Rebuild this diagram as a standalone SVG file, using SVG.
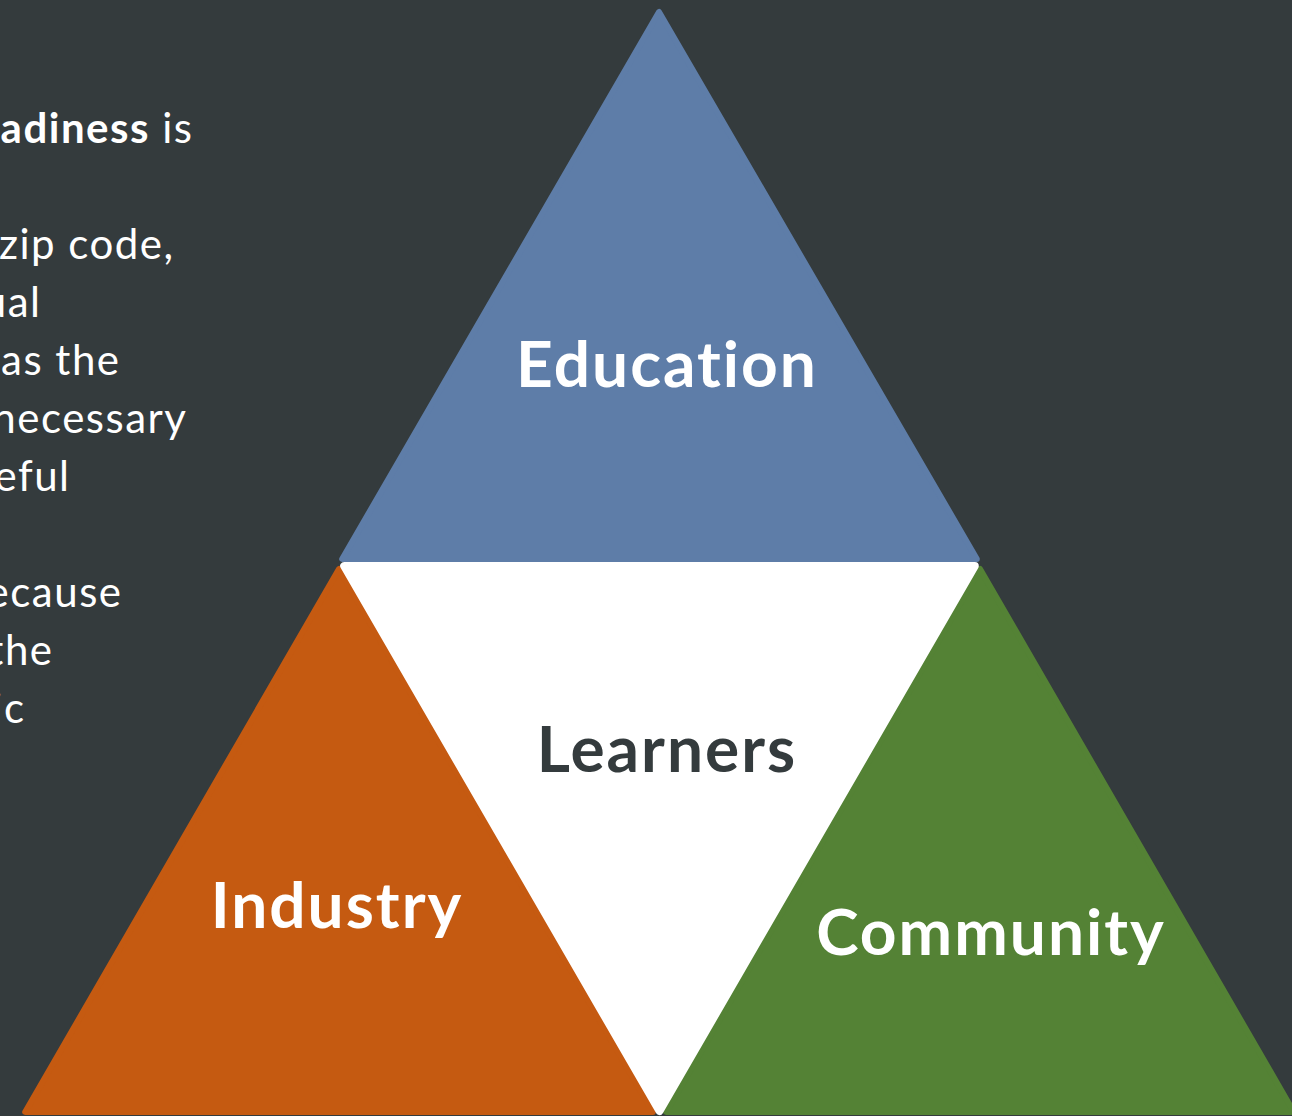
<svg xmlns="http://www.w3.org/2000/svg" width="1292" height="1116" viewBox="0 0 1292 1116">
<style>
.tri{stroke-width:6;stroke-linejoin:round}
.lbl{font-family:Lato,"Noto Sans",sans-serif;font-weight:bold;font-size:64px;text-anchor:middle;letter-spacing:2px;font-variant-ligatures:none}
.body{font-family:Lato,"Noto Sans",sans-serif;font-size:42px;fill:#ffffff;text-anchor:end;letter-spacing:1.5px;font-variant-ligatures:none}
</style>
<rect width="1292" height="1116" fill="#343b3d"/>
<g id="bodytext">
<text class="body" x="193.5" y="143"><tspan font-weight="bold">adiness</tspan> is</text>
<text class="body" x="174.5" y="259">zip code,</text>
<text class="body" x="41.5" y="317">ual</text>
<text class="body" x="120.5" y="375">as the</text>
<text class="body" x="187.5" y="433">necessary</text>
<text class="body" x="70.5" y="491">eful</text>
<text class="body" x="122.5" y="607">ecause</text>
<text class="body" x="53.5" y="665">the</text>
<text class="body" x="25.5" y="723">ic</text>
</g>
<g id="education">
<polygon class="tri" fill="#5e7da8" stroke="#5e7da8" points="659,12 342.2,559 976.8,559"/>
<text class="lbl" x="667" y="387" fill="#ffffff">Education</text>
</g>
<g id="industry">
<polygon class="tri" fill="#c55a11" stroke="#c55a11" points="339,569 25.2,1112 652.8,1112"/>
<text class="lbl" x="337" y="928" fill="#ffffff">Industry</text>
</g>
<g id="community">
<polygon class="tri" fill="#548235" stroke="#548235" points="980,569 666.2,1112 1293.8,1112"/>
<text class="lbl" x="991" y="955" fill="#ffffff">Community</text>
</g>
<g id="learners">
<polygon fill="#ffffff" stroke="#ffffff" stroke-width="8" stroke-linejoin="round" points="344.2,566 974.8,566 659.5,1111"/>
<text class="lbl" x="667" y="772" fill="#343b3d">Learners</text>
</g>
<g id="connectors"></g>
</svg>
